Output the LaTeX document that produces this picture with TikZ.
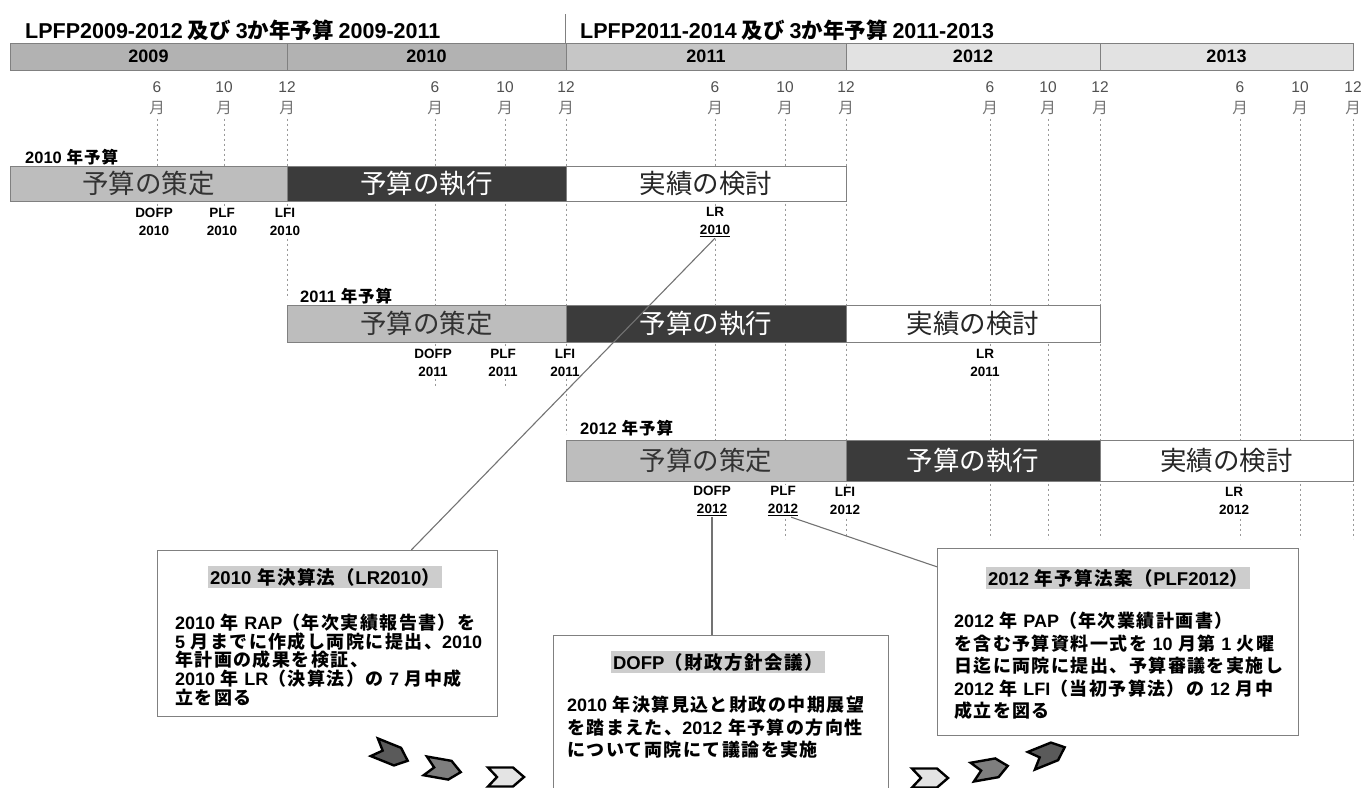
\documentclass[tikz,border=0pt]{standalone}
\usepackage{fontspec}
\setmainfont{Noto Sans CJK JP}
\newfontfamily\trk[LetterSpace=8]{Noto Sans CJK JP}
\newfontfamily\trks[LetterSpace=6]{Noto Sans CJK JP}
\newfontfamily\latfont{Liberation Sans}
\newcommand\Lat[1]{{\latfont #1}}
\usetikzlibrary{calc}
\definecolor{yrdark}{HTML}{B2B2B2}
\definecolor{yrmid}{HTML}{C6C6C6}
\definecolor{yrlight}{HTML}{E2E2E2}
\definecolor{cplan}{HTML}{BDBDBD}
\definecolor{cexec}{HTML}{3B3B3B}
\definecolor{edge}{HTML}{808080}
\definecolor{monthc}{HTML}{505050}
\definecolor{hl}{HTML}{CDCDCD}
\definecolor{chevdark}{HTML}{5A5A5A}
\definecolor{chevmid}{HTML}{7E7E7E}
\definecolor{chevlight}{HTML}{E4E4E4}
\begin{document}
\begin{tikzpicture}[x=1pt,y=-1pt,
  yearseg/.style={draw=edge, line width=0.8pt, minimum height=27pt, inner sep=0pt, font=\latfont\bfseries\fontsize{18}{18}\selectfont},
  mon/.style={align=center, text=monthc, inner sep=0pt, font=\fontsize{15.5}{21}\selectfont},
  guide/.style={draw=black!40, dash pattern=on 2pt off 3pt, line width=0.6pt},
  phase/.style={draw=edge, line width=0.8pt, inner sep=0pt, font=\fontsize{26.5}{26.5}\selectfont},
  planseg/.style={phase, fill=cplan, text=black!80},
  exeseg/.style={phase, fill=cexec, text=white},
  revseg/.style={phase, fill=white, text=black!85},
  rowlab/.style={anchor=west, inner sep=0pt, font=\trks\bfseries\fontsize{16.5}{16.5}\selectfont},
  evt/.style={align=center, inner sep=1pt, fill=white, font=\latfont\bfseries\fontsize{13.5}{18.5}\selectfont},
  callout/.style={draw=edge, line width=1.3pt, inner sep=0pt, anchor=north west},
  ctitle/.style={fill=hl, inner sep=2pt, font=\trk\bfseries\fontsize{18.5}{18.5}\selectfont},
  cbody/.style={align=left, anchor=north west, inner sep=0pt, font=\trk\bfseries\fontsize{18}{22.5}\selectfont},
  link/.style={draw=black!55, line width=1.1pt},
  pics/chev/.style={code={\draw[pic actions, line width=2.4pt, line join=miter] (-18,-9.5) -- (7,-9.5) -- (18,0) -- (7,9.5) -- (-18,9.5) -- (-9,0) -- cycle;}},
]
\useasboundingbox (0,0) rectangle (1364,787);

% titles
\node[anchor=west, inner sep=0pt, font=\bfseries\fontsize{21.5}{21.5}\selectfont] (t1) at (25,30) {\Lat{LPFP2009-2012} 及び \Lat{3}か年予算 \Lat{2009-2011}};
\node[anchor=west, inner sep=0pt, font=\bfseries\fontsize{21.5}{21.5}\selectfont] (t2) at (580,30) {\Lat{LPFP2011-2014} 及び \Lat{3}か年予算 \Lat{2011-2013}};

% month labels and guides
\foreach \x/\m/\len [count=\i] in {157/6/118, 224/10/118, 287/12/180, 435/6/268, 505/10/268, 566/12/315, 715/6/355, 785/10/420, 846/12/420, 990/6/420, 1048/10/420, 1100/12/420, 1240/6/420, 1300/10/420, 1353/12/420}{
  \node[mon] (m\i) at (\x,98) {\Lat{\m}\\{\color{black!55}月}};
  \draw[guide] (m\i.south) ++(0,4) -- ++(0,\len);
}

% year header
\node[yearseg, fill=yrdark, minimum width=277pt] (y09) at (148.5,56.5) {2009};
\node[yearseg, fill=yrdark, minimum width=279pt] (y10) at (426.5,56.5) {2010};
\node[yearseg, fill=yrmid, minimum width=280pt] (y11) at (706,56.5) {2011};
\node[yearseg, fill=yrlight, minimum width=254pt] (y12) at (973,56.5) {2012};
\node[yearseg, fill=yrlight, minimum width=253pt] (y13) at (1226.5,56.5) {2013};
\draw[edge, line width=0.8pt] (y11.north west) -- ++(0,-29);

% 2010 budget
\node[rowlab] (l10) at (25,157) {\Lat{2010} 年予算};
\node[planseg, minimum width=277pt, minimum height=35pt] (p10) at (148.5,183.5) {予算の策定};
\node[exeseg, minimum width=279pt, minimum height=35pt] (e10) at (426.5,183.5) {予算の執行};
\node[revseg, minimum width=280pt, minimum height=35pt] (r10) at (706,183.5) {実績の検討};
\node[evt] (dofp10) at (154,222) {DOFP\\2010};
\node[evt] (plf10) at (222,222) {PLF\\2010};
\node[evt] (lfi10) at (285,222) {LFI\\2010};
\node[evt] (lr10) at (715,222) {LR\\\underline{2010}};

% 2011 budget
\node[rowlab] (l11) at (300,296) {\Lat{2011} 年予算};
\node[planseg, minimum width=279pt, minimum height=37pt] (p11) at (426.5,323.5) {予算の策定};
\node[exeseg, minimum width=280pt, minimum height=37pt] (e11) at (706,323.5) {予算の執行};
\node[revseg, minimum width=254pt, minimum height=37pt] (r11) at (973,323.5) {実績の検討};
\node[evt] (dofp11) at (433,363) {DOFP\\2011};
\node[evt] (plf11) at (503,363) {PLF\\2011};
\node[evt] (lfi11) at (565,363) {LFI\\2011};
\node[evt] (lr11) at (985,363) {LR\\2011};

% 2012 budget
\node[rowlab] (l12) at (580,428) {\Lat{2012} 年予算};
\node[planseg, minimum width=280pt, minimum height=41pt] (p12) at (706,460.5) {予算の策定};
\node[exeseg, minimum width=254pt, minimum height=41pt] (e12) at (973,460.5) {予算の執行};
\node[revseg, minimum width=253pt, minimum height=41pt] (r12) at (1226.5,460.5) {実績の検討};
\node[evt] (dofp12) at (712,501) {DOFP\\\underline{2012}};
\node[evt] (plf12) at (783,501) {PLF\\\underline{2012}};
\node[evt] (lfi12) at (845,501) {LFI\\2012};
\node[evt] (lr12) at (1234,501) {LR\\2012};

% callout boxes
\node[callout, minimum width=340pt, minimum height=166pt] (box1) at (157,550) {};
\node[ctitle] (box1t) at (325,577) {\Lat{2010} 年決算法（\Lat{LR2010}）};
\node[cbody, font=\trk\bfseries\fontsize{18}{18.6}\selectfont] (box1b) at (175,614) {\Lat{2010} 年 \Lat{RAP}（年次実績報告書）を\\\Lat{5} 月までに作成し両院に提出、\Lat{2010}\\年計画の成果を検証、\\\Lat{2010} 年 \Lat{LR}（決算法）の \Lat{7} 月中成\\立を図る};

\node[callout, minimum width=335pt, minimum height=180pt] (box2) at (553,635) {};
\node[ctitle] (box2t) at (718,662) {\Lat{DOFP}（財政方針会議）};
\node[cbody] (box2b) at (567,696) {\Lat{2010} 年決算見込と財政の中期展望\\を踏まえた、\Lat{2012} 年予算の方向性\\について両院にて議論を実施};

\node[callout, minimum width=361pt, minimum height=187pt] (box3) at (937,548) {};
\node[ctitle] (box3t) at (1118,578) {\Lat{2012} 年予算法案（\Lat{PLF2012}）};
\node[cbody] (box3b) at (954,612) {\Lat{2012} 年 \Lat{PAP}（年次業績計画書）\\を含む予算資料一式を \Lat{10} 月第 \Lat{1} 火曜\\日迄に両院に提出、予算審議を実施し\\\Lat{2012} 年 \Lat{LFI}（当初予算法）の \Lat{12} 月中\\成立を図る};

% connectors
\draw[link] (lr10.south) -- ($(box1.north west)!0.745!(box1.north east)$);
\draw[link] (dofp12.south) -- (dofp12.south |- box2.north);
\draw[link] ($(plf12.south)!0.5!(plf12.south east)$) -- ($(box3.north west)!0.1!(box3.south west)$);

% chevrons
\pic[fill=chevdark, rotate=-22] at (391,754) {chev};
\pic[fill=chevmid, rotate=-10] at (443,769) {chev};
\pic[fill=chevlight] at (506,777) {chev};
\pic[fill=chevlight] at (930,778) {chev};
\pic[fill=chevmid, rotate=10] at (990,769) {chev};
\pic[fill=chevdark, rotate=22] at (1048,754) {chev};
\end{tikzpicture}
\end{document}
